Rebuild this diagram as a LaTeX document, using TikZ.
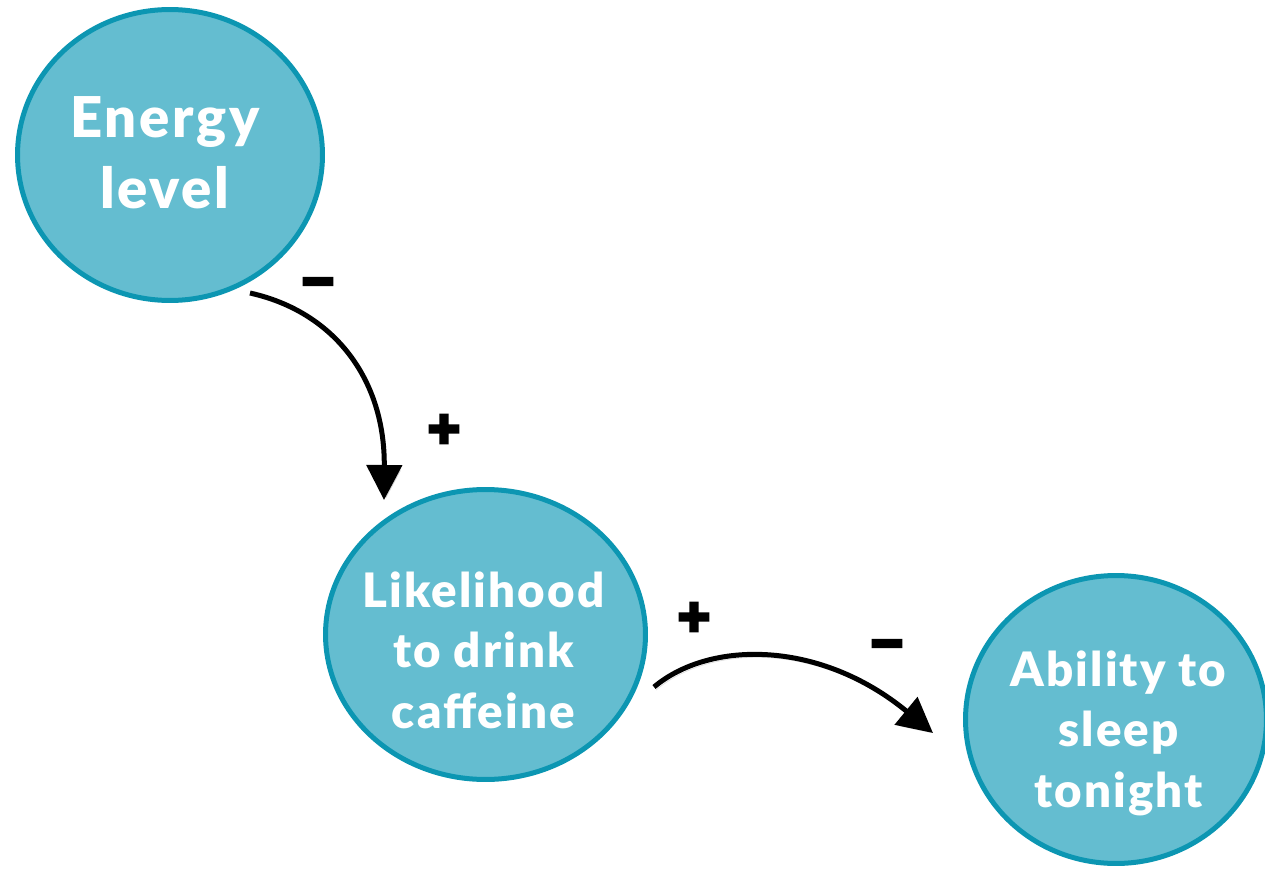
\documentclass[tikz,border=0pt]{standalone}
\usepackage{fontspec}
\setmainfont{Lato}[BoldFont={Lato Black}]
\newfontfamily\signfont{DejaVu Sans Bold}
\usetikzlibrary{arrows.meta,calc,shapes.geometric}
\definecolor{bubblefill}{HTML}{64BDD0}
\definecolor{bubbleline}{HTML}{0C96B2}
% polarity marks: glyphs filled and stroked for a heavier weight
\newcommand{\heavysign}[1]{\special{pdf:code q 2 Tr 2.5 w}#1\special{pdf:code Q}}
\tikzset{
  bubble/.style={ellipse, draw=bubbleline, fill=bubblefill, line width=0.1cm, inner sep=0pt},
  bubbletext/.style={text=white, align=center, anchor=base, inner sep=0pt},
  bigtext/.style={bubbletext, font=\fontsize{32}{40}\selectfont\bfseries\addfontfeatures{LetterSpace=4.5}},
  midtext/.style={bubbletext, font=\fontsize{27}{34.4}\selectfont\bfseries\addfontfeatures{LetterSpace=4.5}},
  link/.style={line width=0.1cm, -{Triangle[length=0.7cm,width=0.7cm]},
    preaction={draw=black!30, opacity=0.45, transform canvas={shift={(0.04cm,-0.06cm)}}}},
  sign/.style={font=\signfont\fontsize{24}{24}\selectfont, inner sep=0pt}
}
\begin{document}
\begin{tikzpicture}[x=0.02cm, y=-0.02cm]
  \useasboundingbox (0,0) rectangle (1265,872);

  % the three variables
  \node[bubble, minimum width=6.1cm, minimum height=5.82cm] (energy) at (170,155) {};
  \node[bubble, minimum width=6.4cm, minimum height=5.8cm] (likely) at (485.5,634.5) {};
  \node[bubble, minimum width=6.02cm, minimum height=5.76cm] (sleep) at (1116,719.5) {};

  % labels, placed by the baseline of their last line
  \node[bigtext] (energytxt) at (165,208) {Energy\\level};
  \node[midtext] (likelytxt) at (483.5,728) {Likelihood\\to drink\\caffeine};
  \node[midtext] (sleeptxt) at (1118.5,807) {Ability to\\sleep\\tonight};

  % causal links
  \draw[link] ($(energy.center)+(80,138)$) .. controls (335,312) and (385,380) .. ($(likely.center)+(-101.5,-134.5)$);
  \draw[link] ($(likely.center)+(168.5,52.5)$) .. controls (710,640) and (820,640) .. ($(sleep.center)+(-183,13.5)$);

  % link polarities
  \node[sign] (s1) at (318,287) {\heavysign{−}};
  \node[sign] (s2) at (444,429) {\heavysign{+}};
  \node[sign] (s3) at (694,617) {\heavysign{+}};
  \node[sign] (s4) at (887,649) {\heavysign{−}};
\end{tikzpicture}
\end{document}
